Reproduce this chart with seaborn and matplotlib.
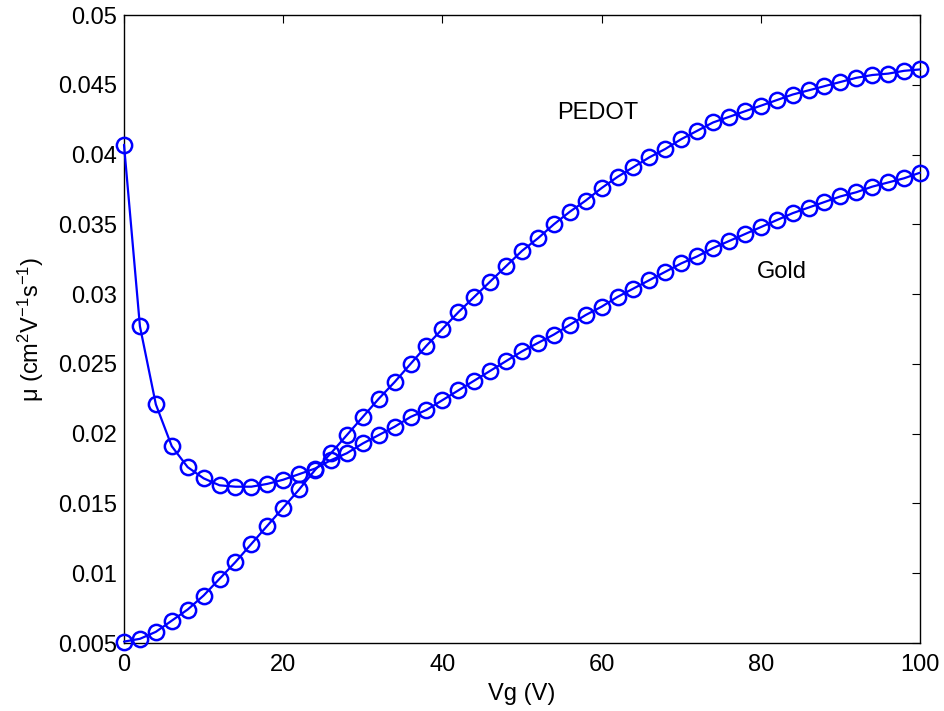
import numpy as np
import pandas as pd
import matplotlib
matplotlib.use("Agg")
import matplotlib.pyplot as plt
import seaborn as sns

vg = list(range(0, 101, 2))

gold = [0.0407, 0.0277, 0.0221, 0.0191, 0.0176, 0.0168, 0.0163, 0.0162, 0.0162, 0.0164,
        0.0167, 0.0171, 0.0175, 0.0181, 0.0186, 0.0193, 0.0199, 0.0205, 0.0212, 0.0217,
        0.0224, 0.0231, 0.0238, 0.0245, 0.0252, 0.0259, 0.0265, 0.0271, 0.0278, 0.0285,
        0.0291, 0.0298, 0.0304, 0.0310, 0.0316, 0.0322, 0.0327, 0.0333, 0.0338, 0.0343,
        0.0348, 0.0353, 0.0358, 0.0362, 0.0366, 0.0370, 0.0373, 0.0377, 0.0380, 0.0383,
        0.0387]

pedot = [0.0051, 0.0053, 0.0058, 0.0066, 0.0074, 0.0084, 0.0096, 0.0108, 0.0121, 0.0134,
         0.0147, 0.0160, 0.0174, 0.0186, 0.0199, 0.0212, 0.0225, 0.0237, 0.0250, 0.0263,
         0.0275, 0.0287, 0.0298, 0.0309, 0.0320, 0.0331, 0.0340, 0.0350, 0.0359, 0.0367,
         0.0376, 0.0384, 0.0391, 0.0398, 0.0404, 0.0411, 0.0417, 0.0423, 0.0427, 0.0431,
         0.0435, 0.0439, 0.0443, 0.0446, 0.0449, 0.0452, 0.0455, 0.0457, 0.0458, 0.0460,
         0.0461]

labels = ["PEDOT", "Gold"]
xticks = [0, 20, 40, 60, 80, 100]
yticks = [0.005, 0.01, 0.015, 0.02, 0.025, 0.03, 0.035, 0.04, 0.045, 0.05]
yticklabels = ["0.005", "0.01", "0.015", "0.02", "0.025", "0.03", "0.035", "0.04", "0.045", "0.05"]

sns.set_theme(style="white")
plt.rcParams["font.family"] = ["Liberation Sans", "DejaVu Sans"]
plt.rcParams["mathtext.default"] = "regular"
plt.rcParams["mathtext.fontset"] = "custom"
plt.rcParams["mathtext.rm"] = "Liberation Sans"

df = pd.DataFrame({
    "Vg": vg + vg,
    "mu": gold + pedot,
    "series": ["Gold"] * len(vg) + ["PEDOT"] * len(vg),
})

FS = 17

fig = plt.figure(figsize=(9.44, 7.11), dpi=100)
ax = fig.add_axes([124 / 944, 1 - 643 / 711, (920 - 124) / 944, (643 - 15) / 711])

sns.lineplot(data=df, x="Vg", y="mu", hue="series", palette=["#0000ff", "#0000ff"],
             sort=False, legend=False, ax=ax, marker="o", markersize=11,
             markerfacecolor="none", markeredgecolor="#0000ff", markeredgewidth=1.8,
             linewidth=1.6, clip_on=False, zorder=3)

ax.set_xlim(0, 100)
ax.set_ylim(0.005, 0.05)
ax.set_xticks(xticks)
ax.set_xticklabels([str(t) for t in xticks])
ax.set_yticks(yticks)
ax.set_yticklabels(yticklabels)
ax.tick_params(direction="in", length=6, width=0.8, top=True, right=True,
               labelsize=FS, colors="black")
ax.tick_params(axis="x", pad=8)
ax.tick_params(axis="y", pad=5)
for s in ax.spines.values():
    s.set_visible(True)
    s.set_color("black")
    s.set_linewidth(1.0)

ax.set_xlabel("Vg (V)", fontsize=FS, color="black", labelpad=5)
ax.set_ylabel("μ (cm$^2$V$^{-1}$s$^{-1}$)", fontsize=FS, color="black", labelpad=9)

ax.text(59.5, 0.0430, labels[0], fontsize=FS, ha="center", va="center", color="black")
ax.text(82.7, 0.0316, labels[1], fontsize=FS, ha="center", va="center", color="black")

fig.savefig("out.png", dpi=100, facecolor="white")
